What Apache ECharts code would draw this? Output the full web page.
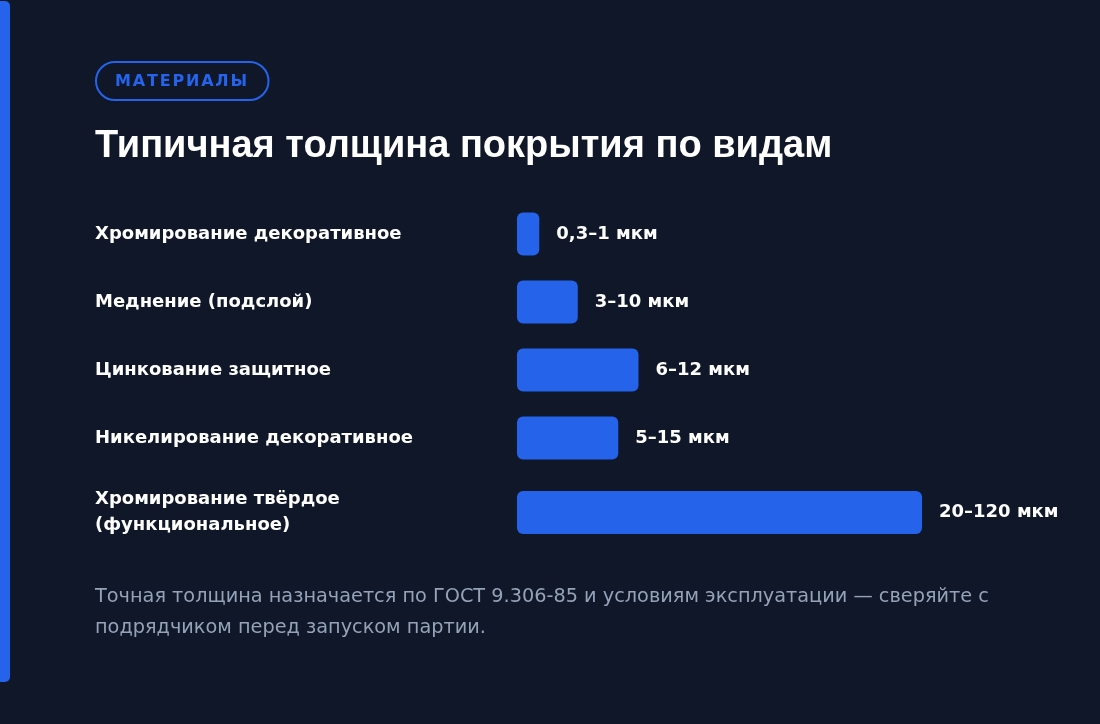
<!DOCTYPE html>
<html>
<head>
<meta charset="utf-8">
<style>
  html, body { margin: 0; padding: 0; background: #0f1729; }
  #chart-container { width: 1100px; height: 724px; }
</style>
<script src="https://cdn.jsdelivr.net/npm/echarts@6/dist/echarts.min.js"></script>
</head>
<body>
<div id="chart-container"></div>
<script>
var dom = document.getElementById('chart-container');
var myChart = echarts.init(dom, null, { renderer: 'canvas' });

// data
var categories = [
  'Хромирование декоративное',
  'Меднение (подслой)',
  'Цинкование защитное',
  'Никелирование декоративное',
  'Хромирование твёрдое\n(функциональное)'
];
// relative bar length (scale 0..100), as drawn
var barValues = [5.5, 15, 30, 25, 100];
var rangeLabels = ['0,3–1 мкм', '3–10 мкм', '6–12 мкм', '5–15 мкм', '20–120 мкм'];

var badgeText = 'МАТЕРИАЛЫ';
var titleText = 'Типичная толщина покрытия по видам';
var noteText = 'Точная толщина назначается по ГОСТ 9.306-85 и условиям эксплуатации — сверяйте с\nподрядчиком перед запуском партии.';

var FONT = '"Liberation Sans", Arial, sans-serif';
var WIDE = '"DejaVu Sans", "Liberation Sans", sans-serif';
var BLUE = '#2563eb';

// badge letters, spread to fill the pill like css letter-spacing
var badgeFont = 'bold 16px ' + WIDE;
var measure = document.createElement('canvas').getContext('2d');
measure.font = badgeFont;
var chars = badgeText.split('');
var rawW = chars.reduce(function (s, ch) { return s + measure.measureText(ch).width; }, 0);
var spacing = (132 - rawW) / (chars.length - 1);
var badgeLetters = [];
var bx = 115;
chars.forEach(function (ch) {
  badgeLetters.push({
    type: 'text',
    x: bx,
    y: 82,
    style: { text: ch, fill: BLUE, font: badgeFont, verticalAlign: 'middle' }
  });
  bx += measure.measureText(ch).width + spacing;
});

function makeGrid(top, height) {
  return { left: 517, width: 405, top: top, height: height, containLabel: false };
}

var split = 4;
var option = {
  backgroundColor: '#0f1729',
  animation: false,
  title: {
    text: titleText,
    left: 90,
    top: 123,
    textStyle: { color: '#ffffff', fontSize: 38, fontWeight: 'bold', fontFamily: FONT }
  },
  grid: [makeGrid(200, 68 * split), makeGrid(478.5, 68)],
  xAxis: [0, 1].map(function (i) {
    return {
      type: 'value', gridIndex: i, min: 0, max: 100,
      show: false
    };
  }),
  yAxis: [
    { data: categories.slice(0, split) },
    { data: categories.slice(split) }
  ].map(function (ax, i) {
    return {
      type: 'category', gridIndex: i, inverse: true, data: ax.data,
      axisLine: { show: false }, axisTick: { show: false }, splitLine: { show: false },
      axisLabel: {
        align: 'left', margin: 422, color: '#ffffff',
        fontSize: 18, fontWeight: 'bold', fontFamily: WIDE, lineHeight: 26
      }
    };
  }),
  series: [
    { values: barValues.slice(0, split), labels: rangeLabels.slice(0, split) },
    { values: barValues.slice(split), labels: rangeLabels.slice(split) }
  ].map(function (s, i) {
    return {
      type: 'bar',
      xAxisIndex: i, yAxisIndex: i,
      data: s.values,
      barWidth: 43,
      itemStyle: { color: BLUE, borderRadius: 6 },
      label: {
        show: true, position: 'right', distance: 17,
        color: '#ffffff', fontSize: 18, fontWeight: 'bold', fontFamily: WIDE,
        formatter: function (p) { return s.labels[p.dataIndex]; }
      }
    };
  }),
  graphic: [
    {
      type: 'rect',
      shape: { x: -10, y: 1, width: 20, height: 681, r: 5 },
      style: { fill: BLUE }
    },
    {
      type: 'rect',
      shape: { x: 96, y: 62, width: 172.5, height: 38, r: 19 },
      style: { fill: 'none', stroke: BLUE, lineWidth: 2 }
    },
    {
      type: 'text',
      left: 95,
      top: 581,
      style: {
        text: noteText, fill: '#94a3b8',
        font: '19.3px ' + WIDE, lineHeight: 31
      }
    }
  ].concat(badgeLetters)
};

myChart.setOption(option);
window.addEventListener('resize', myChart.resize);
</script>
</body>
</html>
